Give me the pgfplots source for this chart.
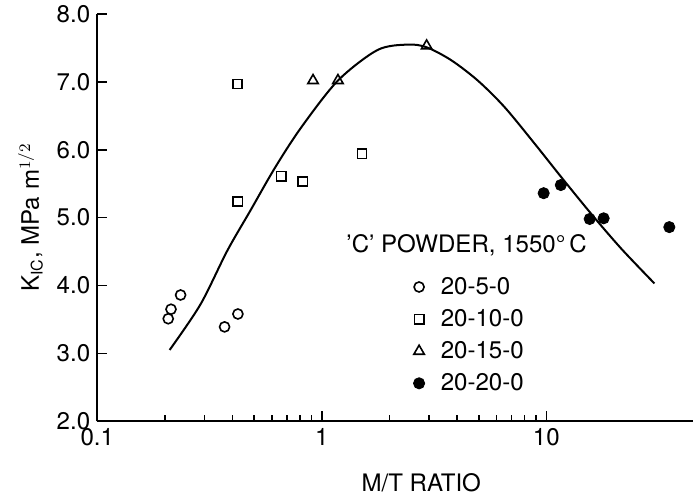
\documentclass[border=0pt]{standalone}
\usepackage{fontspec}
\setmainfont{TeX Gyre Heros}
\usepackage{pgfplots}
\pgfplotsset{compat=1.18}

\begin{document}
\begin{tikzpicture}
\begin{axis}[
    scale only axis,
    width=297pt, height=203pt,
    xmode=log,
    xmin=0.1, xmax=45,
    ymin=2, ymax=8,
    axis x line*=bottom,
    axis y line*=left,
    axis line style={line width=1pt},
    every tick/.style={black, line width=0.8pt},
    major tick length=5pt,
    minor tick length=3pt,
    xtick={0.1,1,10},
    xticklabels={0.1,1,10},
    ytick={2,3,4,5,6,7,8},
    yticklabel style={/pgf/number format/.cd, fixed, fixed zerofill, precision=1},
    /pgf/number format/assume math mode=true,
    tick label style={font=\large},
    xlabel={M/T RATIO},
    xlabel style={font=\large, xshift=13pt, yshift=-7pt},
    ylabel={K$_{\mathrm{IC}}$, MPa m$^{1/2}$},
    ylabel style={font=\large},
    clip=false,
    legend cell align=left,
    legend style={draw=none, fill=none, at={(rel axis cs:0.52,0.375)}, anchor=north west,
      font=\large, row sep=2pt,
      /tikz/every odd column/.append style={column sep=6pt}},
]
\addplot[only marks, mark=o, mark size=2.5pt, mark options={line width=0.8pt}] coordinates {
  (0.207,3.51) (0.213,3.65) (0.235,3.86) (0.369,3.39) (0.423,3.58)
};
\addlegendentry{20-5-0}
\addplot[only marks, mark=square, mark size=2.3pt, mark options={line width=0.8pt}] coordinates {
  (0.421,6.97) (0.423,5.24) (0.66,5.61) (0.822,5.53) (1.51,5.94)
};
\addlegendentry{20-10-0}
\addplot[only marks, mark=triangle, mark size=3pt, mark options={line width=0.8pt}] coordinates {
  (0.914,7.02) (1.18,7.02) (2.93,7.53)
};
\addlegendentry{20-15-0}
\addplot[only marks, mark=*, mark size=2.8pt] coordinates {
  (9.73,5.36) (11.6,5.48) (15.6,4.98) (18.0,4.99) (35.3,4.86)
};
\addlegendentry{20-20-0}
\addplot[smooth, line width=1pt, forget plot] coordinates {
  (0.21,3.05) (0.288,3.72) (0.379,4.51) (0.48,5.10) (0.62,5.74) (0.81,6.33)
  (1.18,7.02) (1.77,7.47) (2.41,7.55) (2.93,7.51) (3.77,7.32) (4.95,7.02)
  (6.51,6.63) (8.87,6.09) (11.7,5.59) (15.9,5.05) (21.6,4.54) (30.3,4.03)
};
\node[font=\large] at (rel axis cs:0.62,0.431) {'C' POWDER, 1550°\,C};
\end{axis}
\pgfresetboundingbox
\path (-48.5pt,-39pt) rectangle (297pt,210pt);
\end{tikzpicture}
\end{document}
